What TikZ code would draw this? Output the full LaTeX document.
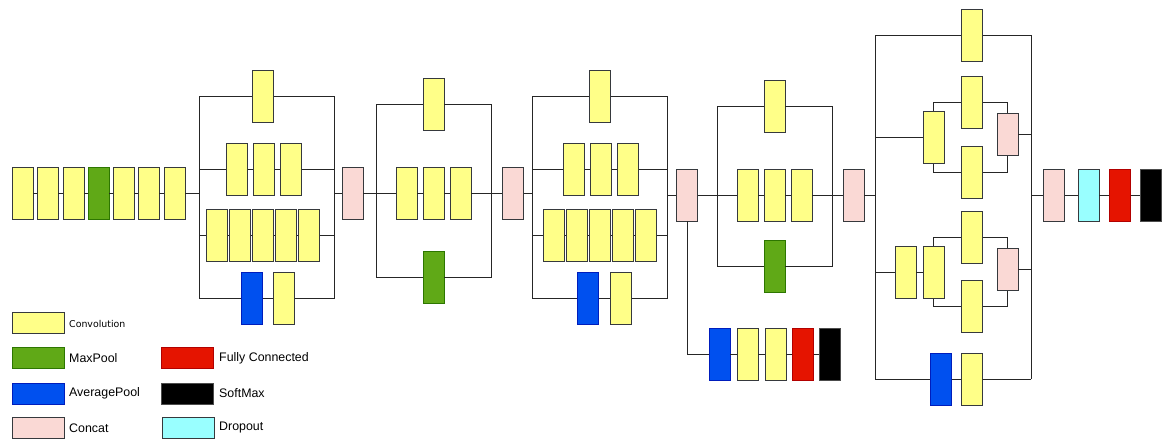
\documentclass[tikz,border=0pt]{standalone}
\usepackage{fontspec}
\setmainfont{Liberation Sans}
\newfontfamily\smallfont{DejaVu Sans}
\usetikzlibrary{positioning}
\definecolor{convfill}{HTML}{FFFF88}
\definecolor{edgegray}{HTML}{36393D}
\definecolor{mpfill}{HTML}{60A917}
\definecolor{mpedge}{HTML}{2D7600}
\definecolor{apfill}{HTML}{0050EF}
\definecolor{apedge}{HTML}{001DBC}
\definecolor{fcfill}{HTML}{E51400}
\definecolor{fcedge}{HTML}{B20000}
\definecolor{catfill}{HTML}{FAD9D5}
\definecolor{dropfill}{HTML}{99FFFF}
\tikzset{
  blk/.style={minimum width=21, minimum height=52, inner sep=0, line width=0.9pt, draw=edgegray},
  conv/.style={blk, fill=convfill},
  mpool/.style={blk, fill=mpfill, draw=mpedge},
  apool/.style={blk, fill=apfill, draw=apedge},
  fcl/.style={blk, fill=fcfill, draw=fcedge},
  smax/.style={blk, fill=black, draw=black!70},
  cat/.style={blk, fill=catfill},
  drop/.style={blk, fill=dropfill},
  leg/.style={minimum width=52, minimum height=21},
  wire/.style={line width=0.8pt, draw=black!85},
  lab/.style={anchor=west, inner sep=0, font=\fontsize{12.4}{14}\selectfont},
}
\begin{document}
\begin{tikzpicture}[x=1pt, y=-1pt]
\useasboundingbox (0,0) rectangle (1166,439);

% ---------------- stem ----------------
\node[conv]  (s1) at (22.5,193) {};
\node[conv]  (s2) at (47.5,193) {};
\node[conv]  (s3) at (73.5,193) {};
\node[mpool] (s4) at (98.5,193) {};
\node[conv]  (s5) at (123.5,193) {};
\node[conv]  (s6) at (148.5,193) {};
\node[conv]  (s7) at (174.5,193) {};
\draw[wire] (s1.east)--(s2.west) (s2.east)--(s3.west) (s3.east)--(s4.west)
            (s4.east)--(s5.west) (s5.east)--(s6.west) (s6.east)--(s7.west);

% ---------------- module 1 ----------------
\coordinate (m1lt) at (199.3,96);   \coordinate (m1rt) at (334.7,96);
\coordinate (m1lb) at (199.3,298.5);\coordinate (m1rb) at (334.7,298.5);
\coordinate (m1in) at (199.3,193);  \coordinate (m1out) at (334.7,193);
\coordinate (m1l2) at (199.3,169);  \coordinate (m1r2) at (334.7,169);
\coordinate (m1l3) at (199.3,235);  \coordinate (m1r3) at (334.7,235);
\node[conv] (a1) at (263,96) {};
\node[conv] (b11) at (237,169) {};
\node[conv] (b12) at (264,169) {};
\node[conv] (b13) at (291,169) {};
\node[conv] (c11) at (217,235) {};
\node[conv] (c12) at (240,235) {};
\node[conv] (c13) at (263,235) {};
\node[conv] (c14) at (286,235) {};
\node[conv] (c15) at (309,235) {};
\node[apool] (d11) at (251.7,298.5) {};
\node[conv]  (d12) at (283.8,298.5) {};
\node[cat] (k1) at (352.5,193) {};
\draw[wire] (m1lt)--(m1lb) (m1rt)--(m1rb);
\draw[wire] (m1lt)--(a1.west) (a1.east)--(m1rt);
\draw[wire] (m1l2)--(b11.west) (b11.east)--(b12.west) (b12.east)--(b13.west) (b13.east)--(m1r2);
\draw[wire] (m1l3)--(c11.west) (c11.east)--(c12.west) (c12.east)--(c13.west)
            (c13.east)--(c14.west) (c14.east)--(c15.west) (c15.east)--(m1r3);
\draw[wire] (m1lb)--(d11.west) (d11.east)--(d12.west) (d12.east)--(m1rb);
\draw[wire] (s7.east)--(m1in) (m1out)--(k1.west);

% ---------------- module 2 ----------------
\coordinate (m2lt) at (376.3,104.5); \coordinate (m2rt) at (491.7,104.5);
\coordinate (m2lb) at (376.3,277.5); \coordinate (m2rb) at (491.7,277.5);
\node[conv] (a2) at (433.5,104.5) {};
\node[conv] (b21) at (406.5,193) {};
\node[conv] (b22) at (433.5,193) {};
\node[conv] (b23) at (460.5,193) {};
\node[mpool] (g2) at (433.5,277.5) {};
\node[cat] (k2) at (513,193) {};
\draw[wire] (m2lt)--(m2lb) (m2rt)--(m2rb);
\draw[wire] (m2lt)--(a2.west) (a2.east)--(m2rt);
\draw[wire] (k1.east)--(b21.west) (b21.east)--(b22.west) (b22.east)--(b23.west) (b23.east)--(k2.west);
\draw[wire] (m2lb)--(g2.west) (g2.east)--(m2rb);

% ---------------- module 3 ----------------
\coordinate (m3lt) at (532.3,96);   \coordinate (m3rt) at (667.3,96);
\coordinate (m3lb) at (532.3,298.5);\coordinate (m3rb) at (667.3,298.5);
\coordinate (m3in) at (532.3,193);  \coordinate (m3out) at (667.3,195);
\coordinate (m3l2) at (532.3,169);  \coordinate (m3r2) at (667.3,169);
\coordinate (m3l3) at (532.3,235);  \coordinate (m3r3) at (667.3,235);
\node[conv] (a3) at (600,96) {};
\node[conv] (b31) at (573.8,169) {};
\node[conv] (b32) at (600.8,169) {};
\node[conv] (b33) at (627.8,169) {};
\node[conv] (c31) at (553.8,235) {};
\node[conv] (c32) at (576.8,235) {};
\node[conv] (c33) at (599.8,235) {};
\node[conv] (c34) at (622.8,235) {};
\node[conv] (c35) at (645.8,235) {};
\node[apool] (d31) at (588.3,298.5) {};
\node[conv]  (d32) at (620.8,298.5) {};
\node[cat] (k3) at (687,195) {};
\draw[wire] (m3lt)--(m3lb) (m3rt)--(m3rb);
\draw[wire] (m3lt)--(a3.west) (a3.east)--(m3rt);
\draw[wire] (m3l2)--(b31.west) (b31.east)--(b32.west) (b32.east)--(b33.west) (b33.east)--(m3r2);
\draw[wire] (m3l3)--(c31.west) (c31.east)--(c32.west) (c32.east)--(c33.west)
            (c33.east)--(c34.west) (c34.east)--(c35.west) (c35.east)--(m3r3);
\draw[wire] (m3lb)--(d31.west) (d31.east)--(d32.west) (d32.east)--(m3rb);
\draw[wire] (k2.east)--(m3in) (m3out)--(k3.west);

% ---------------- auxiliary classifier ----------------
\node[apool] (x1) at (719.5,354.7) {};
\node[conv]  (x2) at (747.5,354.7) {};
\node[conv]  (x3) at (775.5,354.7) {};
\node[fcl]   (x4) at (802.7,354.7) {};
\node[smax]  (x5) at (829.7,354.7) {};
\draw[wire] (k3.south) |- (x1.west);
\draw[wire] (x1.east)--(x2.west) (x2.east)--(x3.west) (x3.east)--(x4.west) (x4.east)--(x5.west);

% ---------------- module 4 ----------------
\coordinate (m4lt) at (717.3,106.3); \coordinate (m4rt) at (832.7,106.3);
\coordinate (m4lb) at (717.3,266);   \coordinate (m4rb) at (832.7,266);
\node[conv] (a4) at (774.5,106.3) {};
\node[conv] (b41) at (747.5,195) {};
\node[conv] (b42) at (774.5,195) {};
\node[conv] (b43) at (801.5,195) {};
\node[mpool] (g4) at (774.5,266) {};
\node[cat] (k4) at (853.5,195) {};
\draw[wire] (m4lt)--(m4lb) (m4rt)--(m4rb);
\draw[wire] (m4lt)--(a4.west) (a4.east)--(m4rt);
\draw[wire] (k3.east)--(b41.west) (b41.east)--(b42.west) (b42.east)--(b43.west) (b43.east)--(k4.west);
\draw[wire] (m4lb)--(g4.west) (g4.east)--(m4rb);

% ---------------- module 5 ----------------
\coordinate (m5lt) at (875.3,35);    \coordinate (m5rt) at (1031.3,35);
\coordinate (m5lb) at (875.3,379);   \coordinate (m5rb) at (1031.3,379);
\coordinate (m5in) at (875.3,195);   \coordinate (m5out) at (1031.3,195);
\coordinate (m5l2) at (875.3,137.7); \coordinate (m5r2) at (1031.3,134.5);
\coordinate (m5l3) at (875.3,272.3); \coordinate (m5r3) at (1031.3,269.3);
\node[conv] (a5) at (971.8,35) {};
% branch with a split after one convolution
\node[conv] (e1) at (933.7,137.7) {};
\node[conv] (e2) at (971.8,102.3) {};
\node[conv] (e4) at (971.8,172) {};
\node[cat, minimum height=42] (e3) at (1007.5,134.5) {};
% branch with a split after two convolutions
\node[conv] (f0) at (905.5,272.3) {};
\node[conv] (f1) at (933.8,272.3) {};
\node[conv] (f2) at (971.8,237) {};
\node[conv] (f4) at (971.8,306.7) {};
\node[cat, minimum height=42] (f3) at (1007.5,269.3) {};
% pooling branch
\node[apool] (h1) at (941,379) {};
\node[conv]  (h2) at (971.8,379) {};
\node[cat] (k5) at (1054.2,195) {};
\draw[wire] (m5lt)--(m5lb) (m5rt)--(m5rb);
\draw[wire] (m5lt)--(a5.west) (a5.east)--(m5rt);
\draw[wire] (m5l2)--(e1.west) (e1.north) |- (e2.west) (e2.east) -| (e3.north)
            (e1.south) |- (e4.west) (e4.east) -| (e3.south) (e3.east)--(m5r2);
\draw[wire] (m5l3)--(f0.west) (f0.east)--(f1.west) (f1.north) |- (f2.west) (f2.east) -| (f3.north)
            (f1.south) |- (f4.west) (f4.east) -| (f3.south) (f3.east)--(m5r3);
\draw[wire] (m5lb)--(h1.west) (h1.east)--(h2.west) (h2.east)--(m5rb);
\draw[wire] (k4.east)--(m5in) (m5out)--(k5.west);

% ---------------- head ----------------
\node[drop] (z1) at (1088.5,195) {};
\node[fcl]  (z2) at (1119.8,195) {};
\node[smax] (z3) at (1151,195) {};
\draw[wire] (k5.east)--(z1.west) (z1.east)--(z2.west) (z2.east)--(z3.west);

% ---------------- legend ----------------
\node[conv, leg]  (lconv) at (38.3,322.7) {};
\node[mpool, leg] (lmp)   at (38.3,357.8) {};
\node[apool, leg] (lap)   at (38.3,393.7) {};
\node[cat, leg]   (lcat)  at (38.3,427.7) {};
\node[fcl, leg]   (lfc)   at (187,357.8) {};
\node[smax, leg]  (lsm)   at (187,393.7) {};
\node[drop, leg]  (ldr)   at (188,427.7) {};
\node[lab, font=\smallfont\fontsize{9.4}{11}\selectfont] (tconv) at (69,324) {Convolution};
\node[lab] (tmp)  at (69,358.5) {MaxPool};
\node[lab] (tap)  at (69,393.5) {AveragePool};
\node[lab] (tcat) at (69,428) {Concat};
\node[lab] (tfc)  at (219,358.5) {Fully Connected};
\node[lab] (tsm)  at (219,393.5) {SoftMax};
\node[lab] (tdr)  at (219,428) {Dropout};
\end{tikzpicture}
\end{document}
